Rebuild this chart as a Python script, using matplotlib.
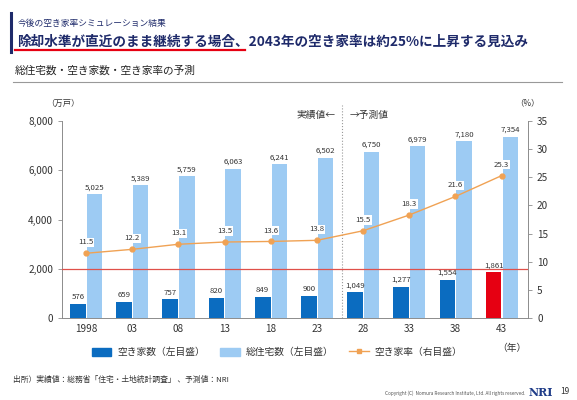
import numpy as np
import matplotlib
matplotlib.use('Agg')
import matplotlib.pyplot as plt
import matplotlib.transforms as mtransforms
from matplotlib.patches import Patch
from matplotlib.lines import Line2D

plt.rcParams['font.family'] = ['Noto Sans CJK JP', 'DejaVu Sans']

years = ['1998', '03', '08', '13', '18', '23', '28', '33', '38', '43']
akiya = [576, 659, 757, 820, 849, 900, 1049, 1277, 1554, 1861]
total = [5025, 5389, 5759, 6063, 6241, 6502, 6750, 6979, 7180, 7354]
rate = [11.5, 12.2, 13.1, 13.5, 13.6, 13.8, 15.5, 18.3, 21.6, 25.3]

navy = '#1E2A6A'
dark = '#0B6CC0'
light = '#9DCBF3'
red = '#E60012'
orange = '#F0A254'
grey = '#8C8C8C'

fig = plt.figure(figsize=(5.77, 4.0), dpi=100)

# header
fig.add_artist(plt.Line2D([11/577, 11/577], [1-13/400, 1-52/400], color=navy, lw=2.2))
fig.text(18/577, 1-23/400, '今後の空き家率シミュレーション結果', fontsize=6.3, color=navy, va='center')
fig.text(17/577, 1-42/400, '除却水準が直近のまま継続する場合、2043年の空き家率は約25%に上昇する見込み',
         fontsize=9.8, color=navy, va='center', fontweight='bold')
fig.add_artist(plt.Line2D([15/577, 245/577], [1-50/400, 1-50/400], color=red, lw=1.6))
fig.text(15/577, 1-71/400, '総住宅数・空き家数・空き家率の予測', fontsize=7.7, color='#222222', va='center')
fig.add_artist(plt.Line2D([13/577, 562/577], [1-82/400, 1-82/400], color='#999999', lw=0.8))

ax = fig.add_axes([62/577, 82/400, 466/577, 197/400])
x = np.arange(len(years))

dark_colors = [dark] * (len(years) - 1) + [red]
b1 = ax.bar(x - 0.175, akiya, 0.34, color=dark_colors)
b2 = ax.bar(x + 0.185, total, 0.33, color=light)
for xi, v in zip(x, akiya):
    ax.annotate(f'{v:,}', (xi - 0.175, v), xytext=(0, 2), textcoords='offset points',
                ha='center', va='bottom', fontsize=5.6, color='#333333')
for xi, v in zip(x, total):
    ax.annotate(f'{v:,}', (xi + 0.185, v), xytext=(0, 2), textcoords='offset points',
                ha='center', va='bottom', fontsize=5.6, color='#333333')

ax.axhline(2000, color='#E0504A', lw=0.9, zorder=4)

ax.set_xlim(-0.52, 9.57)
ax.set_ylim(0, 8000)
ax.set_yticks([0, 2000, 4000, 6000, 8000])
ax.set_yticklabels(['0', '2,000', '4,000', '6,000', '8,000'])
ax.set_xticks(x)
ax.set_xticklabels(years)
ax.tick_params(axis='x', length=0, pad=4, labelsize=7.2, colors='#333333')
ax.tick_params(axis='y', length=3, width=0.6, color=grey, labelsize=7.2, labelcolor='#333333')
for s in ['top', 'right']:
    ax.spines[s].set_visible(False)
for s in ['left', 'bottom']:
    ax.spines[s].set_color(grey)
    ax.spines[s].set_linewidth(0.7)

ax2 = ax.twinx()
ax2.plot(x, rate, color=orange, lw=1.0, marker='o', ms=3.5, zorder=5)
for xi, v in zip(x, rate):
    ax2.annotate(f'{v}', (xi, v), xytext=(0, 5), textcoords='offset points',
                 ha='center', va='bottom', fontsize=5.6, color='#333333',
                 bbox=dict(boxstyle='square,pad=0.1', fc='white', ec='none'))
ax2.set_ylim(0, 35)
ax2.set_yticks([0, 5, 10, 15, 20, 25, 30, 35])
ax2.tick_params(axis='y', length=3, width=0.6, color=grey, labelsize=7.2, labelcolor='#333333')
for s in ['top', 'left', 'bottom']:
    ax2.spines[s].set_visible(False)
ax2.spines['right'].set_color(grey)
ax2.spines['right'].set_linewidth(0.7)

# boundary between actual and forecast
trans = mtransforms.blended_transform_factory(ax.transData, ax.transAxes)
ax.plot([5.55, 5.55], [0, 1.08], transform=trans, clip_on=False, ls=':', color='#999999', lw=0.8)
ax.text(5.40, 1.03, '実績値←', transform=trans, ha='right', va='center', fontsize=7, color='#333333')
ax.text(5.70, 1.03, '→予測値', transform=trans, ha='left', va='center', fontsize=7, color='#333333')

fig.text(63/577, 1-103/400, '（万戸）', fontsize=6, color='#333333', ha='center', va='center')
fig.text(527/577, 1-103/400, '（%）', fontsize=6, color='#333333', ha='center', va='center')
fig.text(512/577, 1-348/400, '（年）', fontsize=7, color='#333333', ha='center', va='center')

handles = [Patch(color=dark), Patch(color=light),
           Line2D([0], [0], color=orange, lw=1.0, marker='s', ms=3)]
labels = ['空き家数（左目盛）', '総住宅数（左目盛）', '空き家率（右目盛）']
fig.legend(handles, labels, loc='center', bbox_to_anchor=(277/577, 1-352/400), ncol=3,
           frameon=False, fontsize=7, handlelength=2.0, handleheight=0.9,
           columnspacing=1.6, handletextpad=0.6, labelcolor='#333333')

fig.text(13/577, 1-380/400, '出所）実績値：総務省「住宅・土地統計調査」 、予測値：NRI',
         fontsize=5.6, color='#333333', va='center')
fig.text(525/577, 1-393/400, 'Copyright (C)  Nomura Research Institute, Ltd. All rights reserved.',
         fontsize=3.4, color='#555555', ha='right', va='center')
fig.text(541/577, 1-392/400, 'NRI', fontsize=8, color='#1F3C88', ha='center', va='center',
         fontweight='bold', family='DejaVu Serif')
fig.text(565/577, 1-392/400, '19', fontsize=6, color='#333333', ha='center', va='center')

fig.savefig('out.png', dpi=100)
